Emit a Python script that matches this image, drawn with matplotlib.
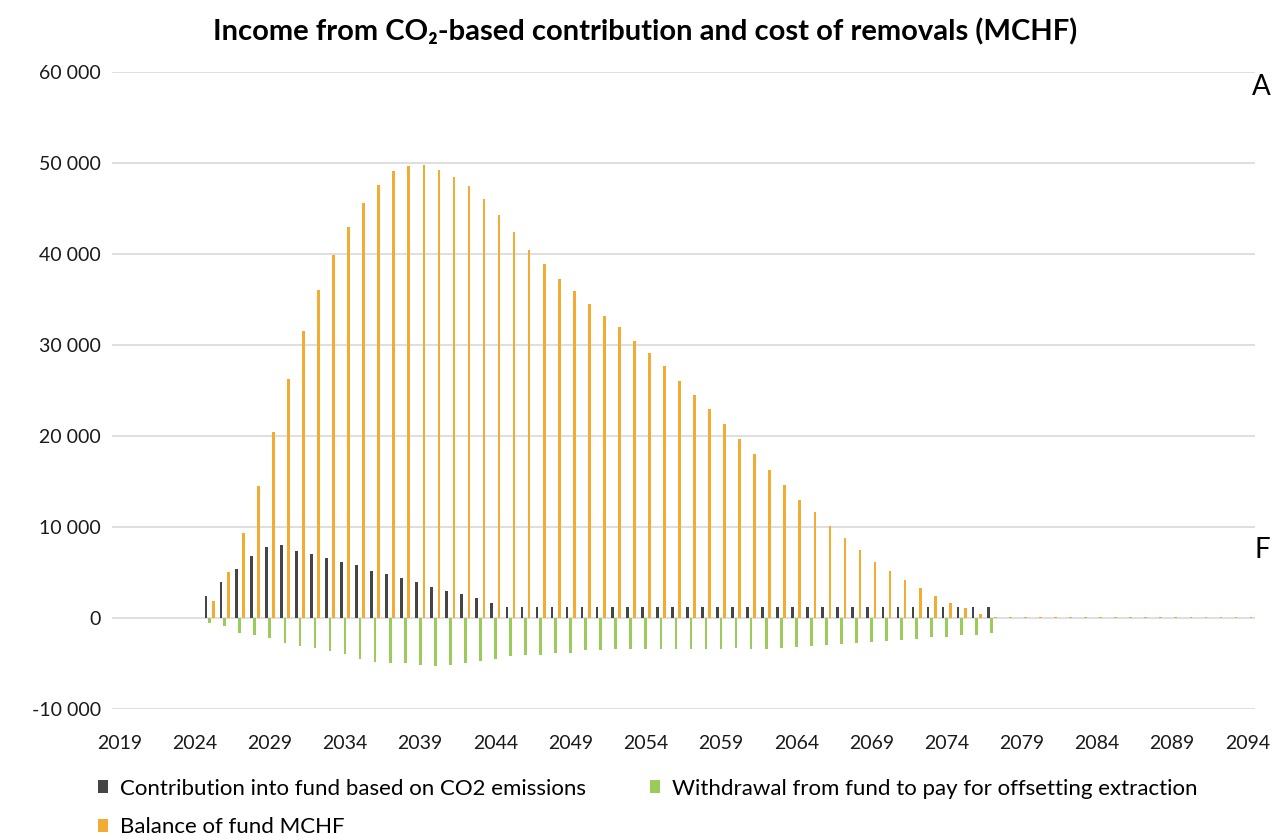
import numpy as np
import matplotlib
matplotlib.use("Agg")
import matplotlib.pyplot as plt
from matplotlib.ticker import FuncFormatter

plt.rcParams['font.family'] = ['Lato', 'DejaVu Sans']

years = list(range(2019, 2095))

# contribution into fund (MCHF), 2025..2077
contribution = [2400, 4000, 5400, 6800, 7800, 8000, 7400, 7000, 6600, 6200,
                5800, 5200, 4800, 4400, 4000, 3400, 3000, 2600, 2200, 1600] + [1200] * 33

# withdrawal from fund (negative), 2025..2077
withdrawal = [-500, -900, -1600, -1900, -2200, -2700, -3100, -3300, -3600, -4000,
              -4500, -4800, -5000, -5000, -5200, -5300, -5200, -4900, -4700, -4500,
              -4200, -4100, -4100, -3900, -3800, -3500, -3500, -3400, -3400, -3400,
              -3400, -3400, -3400, -3400, -3400, -3300, -3400, -3400, -3300, -3200,
              -3100, -3000, -2900, -2700, -2600, -2500, -2400, -2300, -2100, -2100,
              -1900, -1900, -1700]

# balance of fund, 2025..2094
balance = [1900, 5100, 9300, 14500, 20500, 26300, 31500, 36100, 39900, 43000,
           45600, 47600, 49100, 49700, 49800, 49300, 48500, 47500, 46100, 44300,
           42400, 40500, 38900, 37300, 35900, 34500, 33200, 32000, 30500, 29100,
           27700, 26100, 24500, 23000, 21300, 19700, 18000, 16300, 14600, 13000,
           11600, 10100, 8800, 7500, 6200, 5200, 4200, 3300, 2400, 1600,
           1100, 400, 100] + [150] * 17

start = years.index(2025)


def pad(vals):
    out = [0] * len(years)
    out[start:start + len(vals)] = vals
    return out


contribution_all = pad(contribution)
withdrawal_all = pad(withdrawal)
balance_all = pad(balance)

c_dark = '#454545'
c_green = '#9bcb5a'
c_orange = '#f2ab33'

fig = plt.figure(figsize=(12.72, 8.4), dpi=100)
ax = fig.add_axes([0.088, 0.156, 0.8986, 0.758])

x = np.arange(len(years))
w = 0.18
ax.bar(x - 0.24, contribution_all, w, color=c_dark, label='Contribution into fund based on CO2 emissions')
ax.bar(x, withdrawal_all, w, color=c_green, label='Withdrawal from fund to pay for offsetting extraction')
ax.bar(x + 0.24, balance_all, w, color=c_orange, label='Balance of fund MCHF')

ax.set_xlim(-0.5, len(years) - 0.5)
ax.set_ylim(-10000, 60000)
ax.set_yticks(range(-10000, 60001, 10000))
ax.yaxis.set_major_formatter(FuncFormatter(lambda v, p: f"{int(v):,}".replace(",", " ")))
ax.set_xticks(x[::5])
ax.set_xticklabels([str(y) for y in years[::5]])

ax.grid(axis='y', color='#d9d9d9', linewidth=1.2)
ax.set_axisbelow(True)
for s in ax.spines.values():
    s.set_visible(False)
ax.tick_params(axis='both', length=0, labelsize=14, colors='#1a1a1a')
ax.tick_params(axis='y', pad=8)
ax.tick_params(axis='x', pad=19)

fig.text(0.507, 0.962, 'Income from CO₂-based contribution and cost of removals (MCHF)',
         ha='center', va='center', fontsize=21, fontweight='bold')

handles, labels = ax.get_legend_handles_labels()
order = [0, 2, 1]
fig.legend([handles[i] for i in order], [labels[i] for i in order],
           loc='upper left', bbox_to_anchor=(0.061, 0.097), ncol=2, frameon=False,
           fontsize=16, handlelength=0.45, handleheight=0.55, handletextpad=0.55,
           columnspacing=2.9, labelspacing=0.85)

# letters from neighbouring content at the right edge
fig.text(0.984, 0.897, 'A', fontsize=20, ha='left', va='center')
fig.text(0.986, 0.345, 'F', fontsize=20, ha='left', va='center')

fig.savefig('out.png', dpi=100)
